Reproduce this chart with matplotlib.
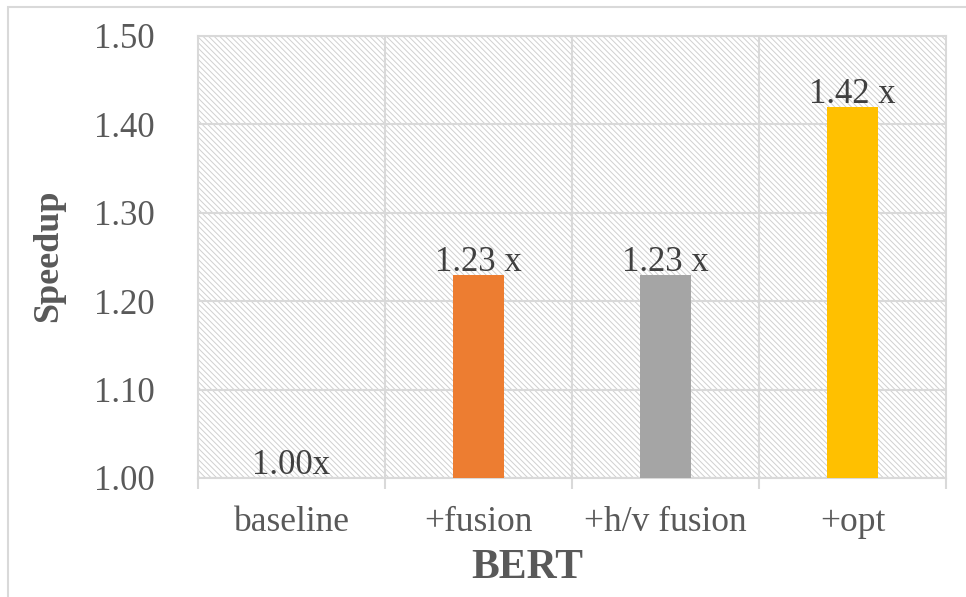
import matplotlib.pyplot as plt
from matplotlib.patches import Rectangle

categories = ['baseline', '+fusion', '+h/v fusion', '+opt']
speedup = [1.00, 1.23, 1.23, 1.42]
labels = ['1.00x', '1.23 x', '1.23 x', '1.42 x']
colors = ['#4472C4', '#ED7D31', '#A5A5A5', '#FFC000']
yticks = [1.00, 1.10, 1.20, 1.30, 1.40, 1.50]

plt.rcParams['font.family'] = ['Liberation Serif', 'DejaVu Serif']
plt.rcParams['hatch.color'] = '#d0d0d0'
plt.rcParams['hatch.linewidth'] = 0.7

grid_c = '#d9d9d9'
text_c = '#595959'

fig = plt.figure(figsize=(9.66, 5.97), dpi=100)
ax = fig.add_axes([198/966, 1 - 478/597, 748/966, 442/597])

# hatched plot area background
ax.patch.set_facecolor('white')
ax.patch.set_hatch('\\' * 6)
ax.patch.set_edgecolor('#d0d0d0')

x = list(range(len(categories)))
ax.bar(x, [v - 1.0 for v in speedup], bottom=1.0, width=0.273, color=colors, zorder=3)

for xi, v, lab in zip(x, speedup, labels):
    ax.annotate(lab, (xi, v), xytext=(0, 3), textcoords='offset points',
                ha='center', va='baseline', fontsize=25, color='#404040', zorder=4)

ax.set_xlim(-0.5, 3.5)
ax.set_ylim(1.0, 1.5)
ax.set_yticks(yticks)
ax.set_yticklabels(['%.2f' % t for t in yticks])
ax.set_xticks(x)
ax.set_xticklabels(categories)
ax.set_xticks([-0.5, 0.5, 1.5, 2.5, 3.5], minor=True)

ax.grid(axis='y', color=grid_c, linewidth=1.5, zorder=1)
for b in [0.5, 1.5, 2.5]:
    ax.axvline(b, color=grid_c, linewidth=1.5, zorder=1)
ax.set_axisbelow(True)

for s in ax.spines.values():
    s.set_color(grid_c)
    s.set_linewidth(1.5)

ax.tick_params(axis='y', length=0, pad=31, labelsize=25, labelcolor=text_c)
ax.tick_params(axis='x', which='major', length=0, pad=20, labelsize=25.5, labelcolor=text_c)
ax.tick_params(axis='x', which='minor', length=8, width=1.5, color=grid_c)

fig.text(49/966, 1 - 256/597, 'Speedup', rotation=90, ha='center', va='center',
         fontsize=26, fontweight='bold', color=text_c)
fig.text(527/966, 1 - 568/597, 'BERT', ha='center', va='center',
         fontsize=30, fontweight='bold', color=text_c)

# chart area border
fig.patches.append(Rectangle((8/966, -0.1), 1.2, 1 - 7/597 + 0.1, transform=fig.transFigure,
                             fill=False, edgecolor=grid_c, linewidth=1.5))

fig.savefig('out.png', dpi=100)
